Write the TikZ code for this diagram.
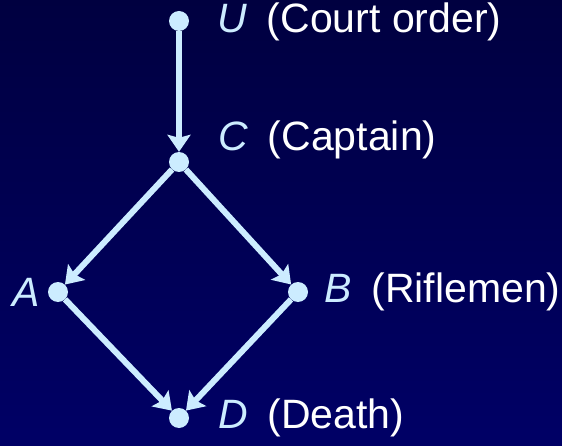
\documentclass[tikz,border=0pt]{standalone}
\usepackage{fontspec}
\setmainfont{Liberation Sans}
\usetikzlibrary{positioning,arrows.meta}
\definecolor{nodeblue}{RGB}{204,236,255}
\definecolor{bgtop}{RGB}{0,0,64}
\definecolor{bgbot}{RGB}{0,0,102}
\tikzset{
  dot/.style={circle,fill=nodeblue,inner sep=0pt,minimum size=20pt},
  lbl/.style={inner sep=0pt,text=white,font=\fontsize{41}{45}\selectfont},
  edge/.style={draw=nodeblue,line width=6pt,-{Stealth[width=23pt,length=17pt,inset=3pt]}}
}
\newcommand{\var}[1]{\textcolor{nodeblue}{\textit{#1}}}
\begin{document}
\begin{tikzpicture}[x=1pt,y=1pt]
  \shade[top color=bgtop,bottom color=bgbot] (0,0) rectangle (562,445);
  \useasboundingbox (0,0) rectangle (562,445);

  \node[dot] (u) at (179,424) {};
  \node[dot] (c) at (179,283) {};
  \node[dot] (a) at (58,153) {};
  \node[dot] (b) at (298,153) {};
  \node[dot] (d) at (179,27) {};

  \node[lbl,right=28pt of u,yshift=-1pt] (ulbl) {\var{U}\hspace{0.48em}(Court order)};
  \node[lbl,right=29pt of c,yshift=22pt] (clbl) {\var{C}\hspace{0.48em}(Captain)};
  \node[lbl,left=8pt of a] (albl) {\var{A}};
  \node[lbl,right=16pt of b] (blbl) {\var{B}\hspace{0.48em}(Riflemen)};
  \node[lbl,right=29pt of d] (dlbl) {\var{D}\hspace{0.48em}(Death)};

  \draw[edge] (u) -- (c);
  \draw[edge] (c) -- (a);
  \draw[edge] (c) -- (b);
  \draw[edge] (a) -- (d);
  \draw[edge] (b) -- (d);
\end{tikzpicture}
\end{document}
